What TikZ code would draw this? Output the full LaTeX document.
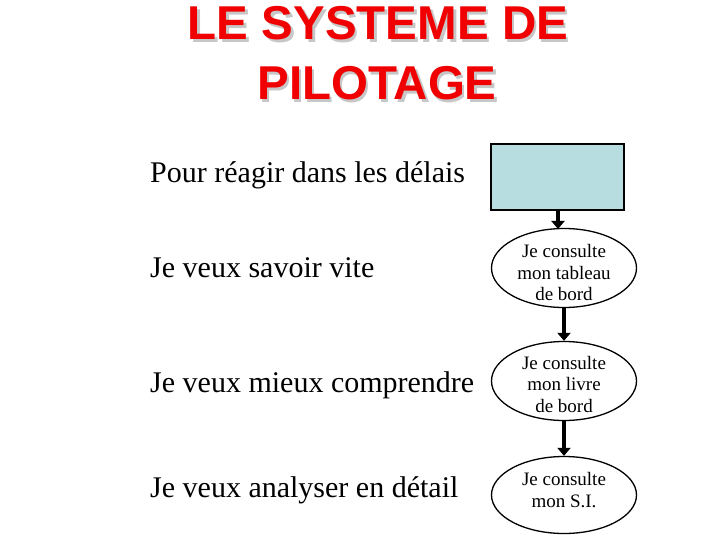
\documentclass[tikz,border=0pt]{standalone}
\usepackage{fontspec}
\setmainfont{Liberation Serif}
\newfontfamily\titlefont{Liberation Sans}
\usetikzlibrary{shapes.geometric,arrows.meta}
\definecolor{titlered}{RGB}{240,0,0}
\definecolor{boxblue}{RGB}{184,221,224}
\begin{document}
\begin{tikzpicture}[x=1pt,y=-1pt,
  titletext/.style={font=\titlefont\bfseries\fontsize{47.5}{47.5}\selectfont, text=titlered, inner sep=0pt},
  titleshadow/.style={font=\titlefont\bfseries\fontsize{47.5}{47.5}\selectfont, text=black!22, inner sep=0pt},
  lefttext/.style={font=\fontsize{30}{30}\selectfont, anchor=base west, inner sep=0pt},
  ell/.style={ellipse, draw, line width=1.3pt, minimum width=145pt, minimum height=79pt, inner sep=0pt},
  elltext/.style={align=center, inner sep=0pt, font=\fontsize{19}{21.5}\selectfont},
  flowarrow/.style={-{Triangle[length=8pt,width=13pt]}, line width=4pt}]
\useasboundingbox (0,0) rectangle (720,540);
% title
\node[titleshadow, anchor=base] at (380.5,42.5) {LE SYSTEME DE};
\node[titletext, anchor=base] (t1) at (378,40) {LE SYSTEME DE};
\node[titleshadow, anchor=base] at (379.5,102.5) {PILOTAGE};
\node[titletext, anchor=base] (t2) at (377,100) {PILOTAGE};
% left texts
\node[lefttext] (l0) at (150,183) {Pour réagir dans les délais};
\node[lefttext] (l1) at (150,277) {Je veux savoir vite};
\node[lefttext] (l2) at (150,392) {Je veux mieux comprendre};
\node[lefttext] (l3) at (150,497) {Je veux analyser en détail};
% boxes
\node[draw, line width=1.5pt, fill=boxblue, minimum width=133pt, minimum height=66pt, inner sep=0pt] (box) at (557.5,177) {};
\node[ell] (e1) at (564,268) {};
\node[elltext] (e1t) at ([yshift=-5pt]e1.center) {Je consulte\\mon tableau\\de bord};
\node[ell] (e2) at (564,381) {};
\node[elltext] (e2t) at ([yshift=-3pt]e2.center) {Je consulte\\mon livre\\de bord};
\node[ell, minimum height=77pt] (e3) at (564,495) {};
\node[elltext] (e3t) at ([yshift=5pt]e3.center) {Je consulte\\mon S.I.};
% arrows
\coordinate (a1) at (558,229);
\draw[flowarrow] (box.south -| a1) -- (a1);
\draw[flowarrow] (e1.south) -- (e2.north);
\draw[flowarrow] (e2.south) -- (e3.north);
\end{tikzpicture}
\end{document}
